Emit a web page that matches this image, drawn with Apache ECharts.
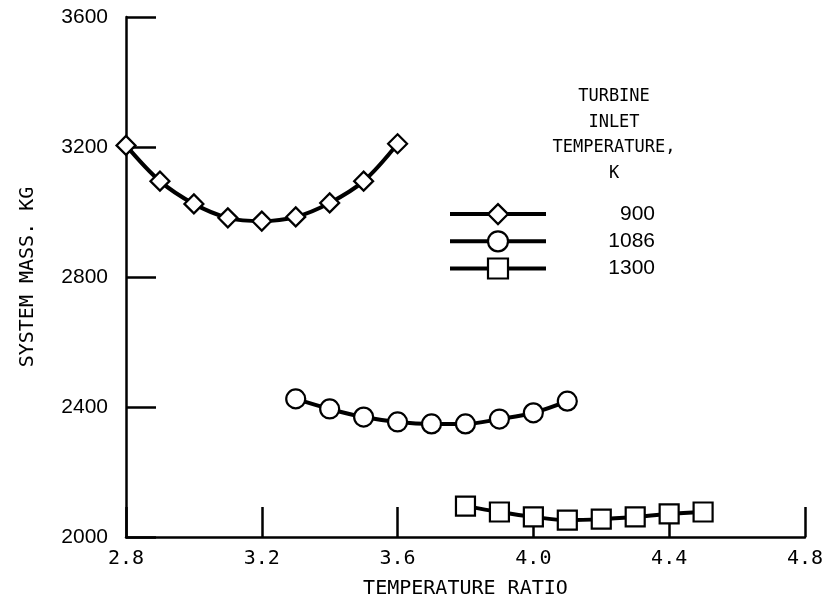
<!DOCTYPE html>
<html>
<head>
<meta charset="utf-8">
<script src="https://cdn.jsdelivr.net/npm/echarts@6/dist/echarts.min.js"></script>
<style>html,body{margin:0;padding:0;background:#fff}#c{width:826px;height:605px}</style>
</head>
<body>
<div id="c"></div>
<script>
const seriesNames = ['900', '1086', '1300'];
const x900 = [2.8, 2.9, 3.0, 3.1, 3.2, 3.3, 3.4, 3.5, 3.6];
const y900 = [3205, 3095, 3025, 2982, 2972, 2985, 3028, 3095, 3210];
const x1086 = [3.3, 3.4, 3.5, 3.6, 3.7, 3.8, 3.9, 4.0, 4.1];
const y1086 = [2425, 2394, 2369, 2354, 2348, 2348, 2363, 2382, 2418];
const x1300 = [3.8, 3.9, 4.0, 4.1, 4.2, 4.3, 4.4, 4.5];
const y1300 = [2095, 2077, 2062, 2052, 2055, 2062, 2071, 2077];
const xTicks = [2.8, 3.2, 3.6, 4.0, 4.4, 4.8];
const yTicks = [2000, 2400, 2800, 3200, 3600];
const legendTitle = ['TURBINE', 'INLET', 'TEMPERATURE,', 'K'];

const pair = (xs, ys) => xs.map((x, i) => [x, ys[i]]);
const mono = 'DejaVu Sans Mono';
const sans = 'Liberation Sans';

const chart = echarts.init(document.getElementById('c'));
const mk = (name, data, symbol, size) => ({
  name, type: 'line', data, symbol, symbolSize: size, smooth: 0.35, clip: false,
  showAllSymbol: true,
  lineStyle: {color: '#000', width: 4},
  itemStyle: {color: '#fff', borderColor: '#000', borderWidth: 2.2},
  emphasis: {disabled: true}, z: 3
});
chart.setOption({
  animation: false,
  backgroundColor: '#fff',
  grid: {left: 126, right: 21, top: 17, bottom: 68},
  xAxis: {
    type: 'value', min: xTicks[0], max: xTicks[xTicks.length - 1], interval: 0.4,
    name: 'TEMPERATURE RATIO', nameLocation: 'middle', nameGap: 42,
    nameTextStyle: {fontFamily: mono, fontSize: 20, color: '#000'},
    axisLine: {lineStyle: {color: '#000', width: 2.5}},
    axisTick: {inside: true, length: 30, lineStyle: {color: '#000', width: 2.5}},
    axisLabel: {fontFamily: mono, fontSize: 20, color: '#000', margin: 12,
      formatter: v => v.toFixed(1)},
    splitLine: {show: false}
  },
  yAxis: {
    type: 'value', min: yTicks[0], max: yTicks[yTicks.length - 1], interval: 400,
    name: 'SYSTEM MASS. KG', nameLocation: 'middle', nameGap: 88,
    nameTextStyle: {fontFamily: mono, fontSize: 20, color: '#000'},
    axisLine: {lineStyle: {color: '#000', width: 2.5}},
    axisTick: {inside: true, length: 30, lineStyle: {color: '#000', width: 2.5}},
    axisLabel: {fontFamily: sans, fontSize: 21, color: '#000', margin: 18,
      formatter: v => String(v)},
    splitLine: {show: false}
  },
  legend: {
    orient: 'vertical', left: 443, top: 198, itemWidth: 96, itemHeight: 25, itemGap: 5,
    data: seriesNames,
    lineStyle: {width: 4, color: '#000'},
    itemStyle: {color: '#fff', borderColor: '#000', borderWidth: 2.2},
    formatter: '{a|{name}}',
    textStyle: {color: '#000', rich: {a: {fontFamily: sans, fontSize: 21, width: 104, align: 'right', color: '#000'}}},
    selectedMode: false
  },
  graphic: legendTitle.map((t, i) => ({
    type: 'text', x: 614, y: 97 + i * 25.5,
    style: {text: t, fontFamily: mono, fontSize: 17, fill: '#000', textAlign: 'center', textVerticalAlign: 'middle'}
  })),
  series: [
    mk(seriesNames[0], pair(x900, y900), 'diamond', [19, 19]),
    mk(seriesNames[1], pair(x1086, y1086), 'circle', 19),
    mk(seriesNames[2], pair(x1300, y1300), 'rect', 19)
  ]
});
</script>
</body>
</html>
